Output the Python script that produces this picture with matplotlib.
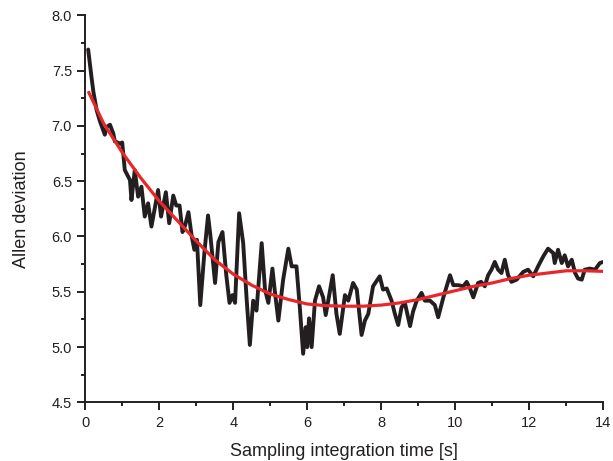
import matplotlib
matplotlib.use("Agg")
import matplotlib.pyplot as plt
from matplotlib.ticker import MultipleLocator

plt.rcParams['font.family'] = ['Liberation Sans', 'DejaVu Sans']

# measured data (black)
meas_x = [0.08, 0.17, 0.22, 0.31, 0.40, 0.53, 0.58, 0.67, 0.76, 0.80, 0.94, 1.00,
          1.07, 1.21, 1.25, 1.34, 1.43, 1.52, 1.61, 1.70, 1.79, 1.97, 2.05, 2.18,
          2.27, 2.38, 2.46, 2.55, 2.63, 2.70, 2.79, 2.88, 2.95, 3.02, 3.11, 3.22,
          3.32, 3.38, 3.51, 3.60, 3.71, 3.81, 3.90, 3.98, 4.05, 4.16, 4.27, 4.36,
          4.45, 4.54, 4.63, 4.77, 4.86, 4.95, 5.06, 5.12, 5.22, 5.35, 5.49, 5.58,
          5.71, 5.80, 5.89, 5.96, 6.00, 6.05, 6.12, 6.21, 6.32, 6.43, 6.50, 6.69,
          6.79, 6.88, 7.02, 7.11, 7.24, 7.34, 7.47, 7.56, 7.65, 7.78, 7.96, 8.05,
          8.15, 8.28, 8.37, 8.46, 8.55, 8.64, 8.78, 8.86, 8.96, 9.09, 9.18, 9.32,
          9.45, 9.54, 9.68, 9.86, 9.95, 10.08, 10.22, 10.31, 10.40, 10.49, 10.62,
          10.70, 10.80, 10.89, 10.98, 11.07, 11.16, 11.25, 11.34, 11.43, 11.52,
          11.66, 11.84, 11.97, 12.11, 12.24, 12.38, 12.51, 12.65, 12.69, 12.78,
          12.88, 12.96, 13.05, 13.15, 13.24, 13.32, 13.42, 13.50, 13.64, 13.78,
          13.91, 14.00]
meas_y = [7.69, 7.44, 7.31, 7.14, 7.04, 6.92, 6.99, 7.01, 6.93, 6.86, 6.84, 6.85,
          6.60, 6.51, 6.33, 6.60, 6.36, 6.45, 6.18, 6.30, 6.09, 6.42, 6.18, 6.40,
          6.12, 6.37, 6.28, 6.28, 6.04, 6.10, 6.22, 6.00, 5.88, 5.97, 5.38, 5.85,
          6.19, 6.02, 5.58, 5.95, 6.04, 5.66, 5.40, 5.47, 5.40, 6.21, 5.94, 5.45,
          5.02, 5.42, 5.33, 5.94, 5.52, 5.40, 5.71, 5.52, 5.24, 5.61, 5.89, 5.73,
          5.73, 5.36, 4.94, 5.18, 5.00, 5.26, 5.00, 5.42, 5.55, 5.45, 5.29, 5.65,
          5.30, 5.12, 5.47, 5.42, 5.58, 5.52, 5.11, 5.24, 5.30, 5.55, 5.64, 5.52,
          5.53, 5.42, 5.30, 5.20, 5.36, 5.40, 5.19, 5.32, 5.42, 5.49, 5.42, 5.42,
          5.38, 5.27, 5.45, 5.65, 5.56, 5.56, 5.55, 5.59, 5.53, 5.45, 5.58,
          5.59, 5.55, 5.65, 5.70, 5.77, 5.70, 5.67, 5.79, 5.65, 5.59,
          5.61, 5.68, 5.70, 5.64, 5.73, 5.82, 5.89, 5.85, 5.76, 5.88,
          5.76, 5.83, 5.73, 5.79, 5.67, 5.62, 5.61, 5.70, 5.71, 5.70,
          5.76, 5.77]

# fitted curve (red)
fit_x = [0.1, 0.5, 1.0, 1.5, 2.0, 2.5, 3.0, 3.5, 4.0, 4.5, 5.0, 5.5, 6.0, 6.5,
         7.0, 7.5, 8.0, 8.5, 9.0, 9.5, 10.0, 10.5, 11.0, 11.5, 12.0, 12.5, 13.0,
         13.5, 14.0]
fit_y = [7.30, 7.02, 6.76, 6.53, 6.32, 6.14, 5.96, 5.79, 5.66, 5.56, 5.48, 5.43,
         5.39, 5.375, 5.37, 5.37, 5.38, 5.40, 5.43, 5.47, 5.51, 5.55, 5.58, 5.62,
         5.65, 5.67, 5.69, 5.69, 5.685]

x_ticks = [0, 2, 4, 6, 8, 10, 12, 14]
y_ticks = [4.5, 5.0, 5.5, 6.0, 6.5, 7.0, 7.5, 8.0]

text_color = '#231f20'

fig = plt.figure(figsize=(6.13, 4.61), dpi=100)
ax = fig.add_axes([0.139, 0.127, 0.845, 0.840])

ax.plot(meas_x, meas_y, color='#231f20', lw=2.8, solid_joinstyle='round',
        solid_capstyle='round', zorder=2)
ax.plot(fit_x, fit_y, color='#e8272a', lw=2.3, zorder=3)

ax.set_xlim(0, 14)
ax.set_ylim(4.5, 8.0)
ax.set_xticks(x_ticks)
ax.set_xticklabels([str(t) for t in x_ticks])
ax.set_yticks(y_ticks)
ax.set_yticklabels([f"{t:.1f}" for t in y_ticks])
ax.xaxis.set_minor_locator(MultipleLocator(1))
ax.yaxis.set_minor_locator(MultipleLocator(0.25))

for s in ['top', 'right']:
    ax.spines[s].set_visible(False)
for s in ['left', 'bottom']:
    ax.spines[s].set_linewidth(1.4)
    ax.spines[s].set_color(text_color)

ax.tick_params(which='major', direction='out', length=5.5, width=1.4,
               colors=text_color, labelsize=10.5, labelcolor=text_color, pad=4)
ax.tick_params(which='minor', direction='out', length=3, width=1.4, colors=text_color)

ax.set_xlabel('Sampling integration time [s]', fontsize=13, color=text_color)
ax.set_ylabel('Allen deviation', fontsize=13, color=text_color)
ax.xaxis.set_label_coords(0.5, -0.104)
ax.yaxis.set_label_coords(-0.106, 0.5)

fig.savefig('out.png', dpi=100)
